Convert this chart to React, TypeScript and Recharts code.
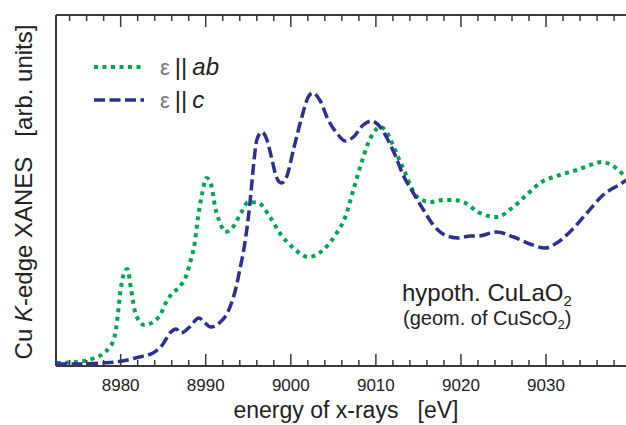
import React from 'react';
import { LineChart, Line, XAxis, YAxis } from 'recharts';

// ε || ab  (green, dotted)
const abEnergy = [
  8972.5, 8974.8, 8976.9, 8977.9, 8978.7, 8979.25, 8979.6, 8979.95, 8980.4, 8980.8,
  8981.2, 8981.8, 8982.8, 8984.5, 8985.3, 8985.9, 8987.1, 8987.7, 8988.15, 8988.7,
  8989.1, 8989.5, 8990.1, 8990.7, 8991.1, 8991.7, 8992.3, 8993.2, 8994.2, 8995.0,
  8996.2, 8997.55, 8998.7, 9000.3, 9002.05, 9003.8, 9005.4, 9006.4, 9007.35, 9008.3,
  9009.1, 9009.7, 9010.5, 9011.1, 9011.9, 9012.6, 9013.4, 9014.2, 9015.0, 9016.4,
  9017.9, 9019.1, 9020.5, 9022.0, 9024.2, 9026.0, 9027.7, 9029.3, 9031.6, 9033.6,
  9035.6, 9036.5, 9037.7, 9039.1, 9039.4,
];
const abSignal = [
  0.03, 0.04, 0.08, 0.12, 0.19, 0.28, 0.46, 0.73, 0.93, 0.97,
  0.78, 0.51, 0.41, 0.49, 0.63, 0.71, 0.81, 0.9, 1.03, 1.23,
  1.49, 1.69, 1.88, 1.79, 1.59, 1.43, 1.34, 1.39, 1.54, 1.64,
  1.63, 1.49, 1.33, 1.18, 1.09, 1.16, 1.33, 1.49, 1.76, 2.03,
  2.23, 2.33, 2.39, 2.36, 2.23, 2.09, 1.94, 1.78, 1.68, 1.64,
  1.66, 1.66, 1.63, 1.54, 1.49, 1.58, 1.71, 1.83, 1.91, 1.96,
  2.02, 2.04, 2.01, 1.91, 1.88,
];

// ε || c  (blue, dashed)
const cEnergy = [
  8972.4, 8974.8, 8977.9, 8980.2, 8982.2, 8983.8, 8984.9, 8985.9, 8986.5, 8987.1,
  8988.1, 8989.2, 8989.8, 8990.6, 8991.6, 8992.6, 8993.55, 8994.0, 8994.6, 8995.2,
  8995.6, 8996.0, 8996.6, 8997.2, 8997.8, 8998.3, 8998.9, 8999.5, 9000.3, 9001.3,
  9002.05, 9002.6, 9003.4, 9004.4, 9005.4, 9006.4, 9007.35, 9008.5, 9009.5, 9010.3,
  9011.3, 9012.25, 9013.2, 9014.4, 9015.6, 9016.75, 9018.1, 9019.7, 9021.1, 9022.0,
  9024.2, 9026.2, 9028.1, 9029.9, 9031.25, 9032.8, 9034.8, 9036.7, 9039.1, 9039.4,
];
const cSignal = [
  0.02, 0.02, 0.03, 0.05, 0.09, 0.13, 0.21, 0.34, 0.37, 0.33,
  0.39, 0.48, 0.44, 0.39, 0.43, 0.54, 0.78, 0.96, 1.23, 1.63,
  1.99, 2.26, 2.34, 2.26, 2.06, 1.89, 1.83, 1.89, 2.16, 2.49,
  2.69, 2.73, 2.66, 2.46, 2.33, 2.25, 2.29, 2.41, 2.45, 2.41,
  2.28, 2.11, 1.91, 1.73, 1.56, 1.41, 1.31, 1.28, 1.3, 1.3,
  1.34, 1.29, 1.22, 1.18, 1.23, 1.34, 1.53, 1.71, 1.84, 1.86,
];

const energyTicks = [
  8974, 8976, 8978, 8980, 8982, 8984, 8986, 8988, 8990, 8992, 8994, 8996, 8998,
  9000, 9002, 9004, 9006, 9008, 9010, 9012, 9014, 9016, 9018, 9020, 9022, 9024,
  9026, 9028, 9030, 9032, 9034, 9036, 9038,
];
const labelledTicks = [8980, 8990, 9000, 9010, 9020, 9030];

const abData = abEnergy.map((e, i) => ({ e, v: abSignal[i] }));
const cData = cEnergy.map((e, i) => ({ e, v: cSignal[i] }));

const FONT = '"Liberation Sans", Arial, Helvetica, sans-serif';
const AXIS = '#3a3a3a';
const GREEN = '#00a651';
const BLUE = '#2e3192';

function EnergyTick(props: any) {
  const { x, y, payload, side } = props;
  const major = labelledTicks.includes(payload.value);
  const len = major ? 12 : 6;
  const dir = side === 'top' ? 1 : -1;
  return (
    <g>
      <line x1={x} x2={x} y1={y} y2={y + dir * len} stroke={AXIS} strokeWidth={1.5} />
      {side === 'bottom' && major && (
        <text x={x} y={y + 25} textAnchor="middle" fontSize={17} fontFamily={FONT} fill="#222">
          {payload.value}
        </text>
      )}
    </g>
  );
}

export default function App() {
  return (
    <div style={{ position: 'absolute', left: 0, top: 0, width: 626, height: 425, background: '#fff' }}>
      <LineChart width={626} height={425} margin={{ top: 0, right: 0, bottom: 0, left: 0 }}>
        <XAxis
          xAxisId={0}
          dataKey="e"
          type="number"
          domain={[8972.4, 9039.4]}
          allowDataOverflow
          ticks={energyTicks}
          interval={0}
          height={59}
          tickSize={0}
          tickMargin={0}
          tickLine={false}
          axisLine={{ stroke: AXIS, strokeWidth: 2 }}
          tick={(p: any) => <EnergyTick {...p} side="bottom" />}
        />
        <XAxis
          xAxisId="top"
          orientation="top"
          dataKey="e"
          type="number"
          domain={[8972.4, 9039.4]}
          allowDataOverflow
          ticks={energyTicks}
          interval={0}
          height={15}
          tickSize={0}
          tickMargin={0}
          tickLine={false}
          axisLine={{ stroke: AXIS, strokeWidth: 2 }}
          tick={(p: any) => <EnergyTick {...p} side="top" />}
        />
        <YAxis
          width={56}
          type="number"
          domain={[0, 3.51]}
          allowDataOverflow
          tick={false}
          tickLine={false}
          axisLine={{ stroke: AXIS, strokeWidth: 2 }}
        />
        <Line
          data={abData}
          dataKey="v"
          type="monotone"
          stroke={GREEN}
          strokeWidth={4}
          strokeDasharray="4 4.5"
          dot={false}
          isAnimationActive={false}
        />
        <Line
          data={cData}
          dataKey="v"
          type="monotone"
          stroke={BLUE}
          strokeWidth={3.5}
          strokeDasharray="11 4.5"
          dot={false}
          isAnimationActive={false}
        />
      </LineChart>

      <svg
        width={626}
        height={425}
        style={{ position: 'absolute', left: 0, top: 0, pointerEvents: 'none' }}
        fontFamily={FONT}
      >
        {/* legend */}
        <line x1={94} x2={144} y1={67} y2={67} stroke={GREEN} strokeWidth={4} strokeDasharray="4 4.5" />
        <line x1={94} x2={144} y1={100} y2={100} stroke={BLUE} strokeWidth={3.5} strokeDasharray="11 4.5" />
        <text x={160} y={75} fontSize={24} fill="#222">
          <tspan fill="#777" fontSize={22}>ε</tspan>
          <tspan dx={5}>||</tspan>
          <tspan dx={5} fontStyle="italic">ab</tspan>
        </text>
        <text x={160} y={108} fontSize={24} fill="#222">
          <tspan fill="#777" fontSize={22}>ε</tspan>
          <tspan dx={5}>||</tspan>
          <tspan dx={5} fontStyle="italic">c</tspan>
        </text>

        {/* annotation */}
        <text x={402} y={301} fontSize={24} fill="#222">
          hypoth. CuLaO<tspan fontSize={15} dy={5}>2</tspan>
        </text>
        <text x={403} y={325} fontSize={20} fill="#222">
          (geom. of CuScO<tspan fontSize={13} dy={4}>2</tspan>
          <tspan dy={-4}>)</tspan>
        </text>

        {/* axis titles */}
        <text x={346} y={418} fontSize={23} fill="#222" textAnchor="middle" style={{ whiteSpace: 'pre' }}>
          {'energy of x-rays   [eV]'}
        </text>
        <text
          transform="translate(32, 192) rotate(-90)"
          fontSize={24}
          fill="#222"
          textAnchor="middle"
          style={{ whiteSpace: 'pre' }}
        >
          Cu <tspan fontStyle="italic">K</tspan>
          {'-edge XANES   [arb. units]'}
        </text>
      </svg>
    </div>
  );
}
